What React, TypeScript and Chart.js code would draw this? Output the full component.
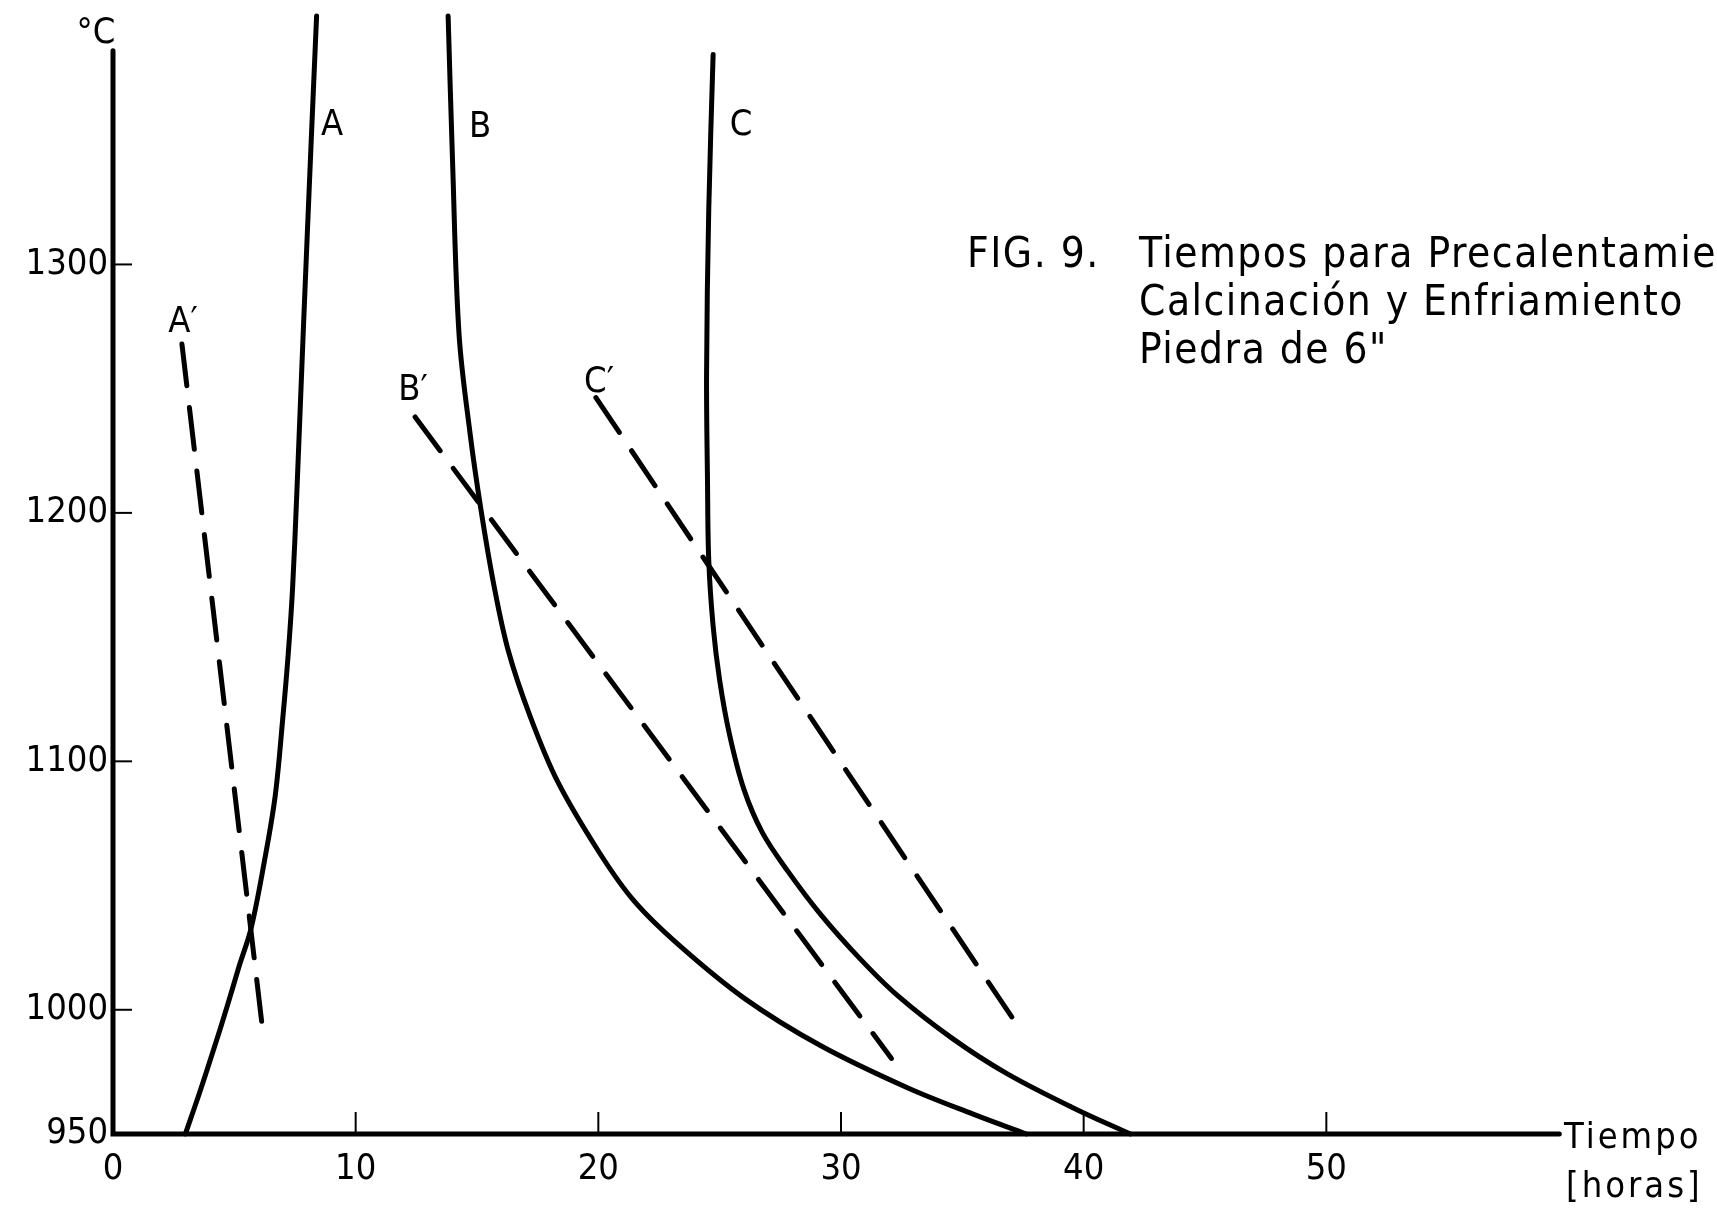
import { useEffect, useRef } from 'react';
import { Chart, registerables } from 'chart.js';

Chart.register(...registerables);

// ---- data ----
const xTickValues = [0, 10, 20, 30, 40, 50];
const yTickValues = [950, 1000, 1100, 1200, 1300];

// Curve A (precalentamiento)
const curveAx = [2.98, 3.56, 4.15, 4.69, 5.19, 5.69, 6.23, 6.68, 6.99, 7.22, 7.4, 7.58, 7.85, 8.17, 8.39];
const curveAy = [950, 966.4, 984.1, 1000.9, 1017.3, 1032.8, 1059.3, 1085.8, 1116.6, 1143.1, 1169.6, 1209.2, 1275.3, 1350.2, 1400];

// Curve B
const curveBx = [13.81, 13.99, 14.26, 14.71, 15.16, 15.7, 16.29, 17.19, 18.32, 20.04, 21.48, 23.29, 25.99, 29.15, 32.76, 35.47, 37.64];
const curveBy = [1400, 1342.3, 1271.9, 1232.3, 1201.5, 1170.7, 1144.5, 1118.1, 1091.9, 1063.3, 1043.7, 1026.3, 1004.8, 985.6, 968.5, 957.9, 950];

// Curve C
const curveCx = [24.73, 24.55, 24.46, 24.5, 24.55, 24.73, 25.0, 25.41, 26.0, 26.76, 27.8, 29.15, 30.73, 32.31, 34.57, 36.82, 39.53, 41.92];
const curveCy = [1384.5, 1321.9, 1255.8, 1211.8, 1180.9, 1154.5, 1132.6, 1110.6, 1088.7, 1071.3, 1055.9, 1038.5, 1021.1, 1005.9, 988.6, 974.4, 960.7, 950];

// Dashed lines A', B', C'
const lineApx = [2.84, 6.23];
const lineApy = [1268.0, 986.6];
const lineBpx = [12.45, 32.08];
const lineBpy = [1238.6, 980.4];
const lineCpx = [19.9, 37.05];
const lineCpy = [1246.4, 996.9];

const xAxisEnd = 59.6;
const yAxisTop = 1386;

const captionLines = [
  'Tiempos para Precalentamiento',
  'Calcinación y Enfriamiento',
  'Piedra de 6"',
];

const FONT = "'DejaVu Sans Condensed', 'Liberation Sans Narrow', 'Liberation Sans', sans-serif";

const toPoints = (xs: number[], ys: number[]) => xs.map((x, i) => ({ x, y: ys[i] }));

const solid = (label: string, xs: number[], ys: number[]) => ({
  label,
  data: toPoints(xs, ys),
  showLine: true,
  borderColor: '#000',
  borderWidth: 5,
  borderCapStyle: 'round' as const,
  pointRadius: 0,
  tension: 0.35,
  fill: false,
  clip: false as const,
});

const dashed = (label: string, xs: number[], ys: number[]) => ({
  label,
  data: toPoints(xs, ys),
  showLine: true,
  borderColor: '#000',
  borderWidth: 5,
  borderDash: [42, 22],
  borderCapStyle: 'round' as const,
  pointRadius: 0,
  tension: 0,
  fill: false,
  clip: false as const,
});

const overlay = {
  id: 'overlay',
  afterDatasetsDraw(chart: any) {
    const ctx = chart.ctx as CanvasRenderingContext2D;
    const xs = chart.scales.x;
    const ys = chart.scales.y;
    const x0 = xs.getPixelForValue(0);
    const y0 = ys.getPixelForValue(950);
    ctx.save();
    ctx.strokeStyle = '#000';
    ctx.lineCap = 'round';
    // axes
    ctx.lineWidth = 5;
    ctx.beginPath();
    ctx.moveTo(x0, ys.getPixelForValue(yAxisTop));
    ctx.lineTo(x0, y0);
    ctx.lineTo(xs.getPixelForValue(xAxisEnd), y0);
    ctx.stroke();
    // inward tick marks
    ctx.lineWidth = 2;
    ctx.lineCap = 'butt';
    xTickValues.filter((v) => v > 0).forEach((v) => {
      const px = xs.getPixelForValue(v);
      ctx.beginPath();
      ctx.moveTo(px, y0);
      ctx.lineTo(px, y0 - 22);
      ctx.stroke();
    });
    yTickValues.filter((v) => v > 950).forEach((v) => {
      const py = ys.getPixelForValue(v);
      ctx.beginPath();
      ctx.moveTo(x0, py);
      ctx.lineTo(x0 + 19, py);
      ctx.stroke();
    });
    // texts
    ctx.fillStyle = '#000';
    ctx.textBaseline = 'middle';
    ctx.textAlign = 'center';
    ctx.font = `36px ${FONT}`;
    ctx.fillText('°C', 96, 34);
    ctx.fillText('A', 332, 126);
    ctx.fillText('B', 480, 128);
    ctx.fillText('C', 741, 126);
    ctx.fillText('A′', 183, 323);
    ctx.fillText('B′', 413, 391);
    ctx.fillText('C′', 599, 383);
    ctx.textAlign = 'left';
    (ctx as any).letterSpacing = '3px';
    ctx.fillText('Tiempo', 1564, 1139);
    ctx.fillText('[horas]', 1566, 1188);
    ctx.font = `42px ${FONT}`;
    (ctx as any).letterSpacing = '1.5px';
    ctx.fillText('FIG. 9.', 967, 256);
    captionLines.forEach((t, i) => ctx.fillText(t, 1139, 256 + i * 48));
    ctx.restore();
  },
};

export default function App() {
  const ref = useRef<HTMLCanvasElement>(null);
  useEffect(() => {
    if (!ref.current) return;
    const chart = new Chart(ref.current, {
      type: 'scatter',
      data: {
        datasets: [
          solid('A', curveAx, curveAy),
          solid('B', curveBx, curveBy),
          solid('C', curveCx, curveCy),
          dashed("A'", lineApx, lineApy),
          dashed("B'", lineBpx, lineBpy),
          dashed("C'", lineCpx, lineCpy),
        ],
      },
      options: {
        animation: false,
        responsive: false,
        devicePixelRatio: 1,
        layout: { padding: { left: 0, right: 148, top: 16, bottom: 0 } },
        plugins: { legend: { display: false }, tooltip: { enabled: false } },
        scales: {
          x: {
            type: 'linear',
            min: 0,
            max: 60,
            grid: { display: false, drawTicks: false },
            border: { display: false },
            afterBuildTicks: (s: any) => {
              s.ticks = xTickValues.map((v) => ({ value: v }));
            },
            afterFit: (s: any) => {
              s.height = 85;
              s.paddingLeft = 0;
              s.paddingRight = 0;
            },
            ticks: {
              color: '#000',
              padding: 14,
              maxRotation: 0,
              autoSkip: false,
              font: { family: FONT, size: 36 },
              callback: (v: any) => String(v),
            },
          },
          y: {
            type: 'linear',
            min: 950,
            max: 1400,
            grid: { display: false, drawTicks: false },
            border: { display: false },
            afterBuildTicks: (s: any) => {
              s.ticks = yTickValues.map((v) => ({ value: v }));
            },
            afterFit: (s: any) => {
              s.width = 113;
              s.paddingTop = 0;
              s.paddingBottom = 0;
            },
            ticks: {
              color: '#000',
              padding: 5,
              autoSkip: false,
              font: { family: FONT, size: 36 },
              callback: (v: any) => String(v),
            },
          },
        },
      },
      plugins: [overlay],
    });
    return () => chart.destroy();
  }, []);
  return (
    <div style={{ position: 'fixed', left: 0, top: 0, width: 1717, height: 1219, background: '#fff' }}>
      <canvas ref={ref} width={1717} height={1219} style={{ display: 'block', width: 1717, height: 1219 }} />
    </div>
  );
}
